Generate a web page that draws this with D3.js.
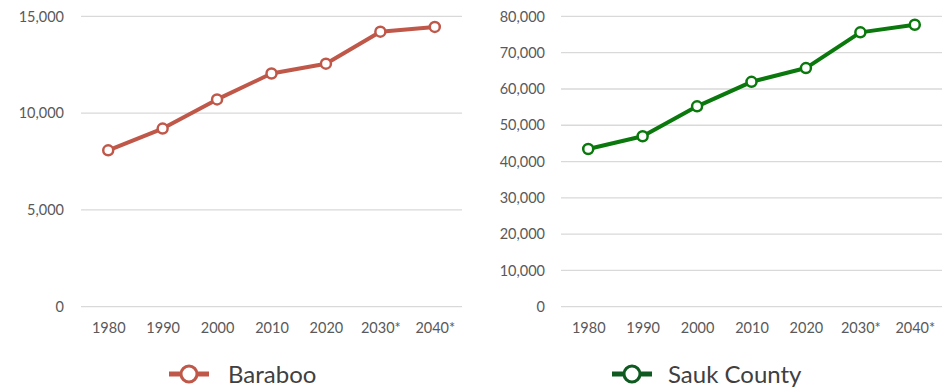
<!DOCTYPE html>
<html>
<head>
<meta charset="utf-8">
<script src="https://cdn.jsdelivr.net/npm/d3@7"></script>
<style>
  html, body { margin: 0; padding: 0; background: #fff; }
  svg { display: block; }
  text { font-family: Lato, "Open Sans", sans-serif; }
</style>
</head>
<body>
<svg id="chart" width="947" height="388"></svg>
<script>
// Census counts and projections (* = projected)
const years = ["1980", "1990", "2000", "2010", "2020", "2030*", "2040*"];
const barabooValues = [8081, 9203, 10711, 12048, 12556, 14210, 14455];
const saukValues = [43469, 46975, 55225, 61976, 65763, 75600, 77700];
const barabooTicks = [0, 5000, 10000, 15000];
const saukTicks = [0, 10000, 20000, 30000, 40000, 50000, 60000, 70000, 80000];

const svg = d3.select("#chart");
const fmt = d3.format(",");

function panel(opts) {
  const g = svg.append("g");
  const x = d3.scalePoint().domain(years).range([opts.x0, opts.x1]).padding(0.5);
  const y = d3.scaleLinear().domain([0, opts.max]).range([306.7, 16.4]);

  // horizontal gridlines
  g.append("g").selectAll("line").data(opts.ticks).join("line")
    .attr("x1", opts.x0).attr("x2", opts.x1)
    .attr("y1", d => y(d)).attr("y2", d => y(d))
    .attr("stroke", "#d9d9d9").attr("stroke-width", 1.3);

  // y axis labels
  const yAxis = d3.axisLeft(y).tickValues(opts.ticks).tickFormat(fmt).tickSize(0).tickPadding(0);
  const ya = g.append("g").attr("transform", `translate(${opts.labelX},0)`).call(yAxis);
  ya.select(".domain").remove();
  ya.selectAll("text").attr("fill", "#595959").attr("font-size", 14.5)
    .attr("font-family", "Lato, 'Open Sans', sans-serif");

  // x axis labels
  const xAxis = d3.axisBottom(x).tickSize(0).tickPadding(0);
  const xa = g.append("g").attr("transform", "translate(0,323)").call(xAxis);
  xa.select(".domain").remove();
  xa.selectAll("text").attr("fill", "#595959").attr("font-size", 14.5)
    .attr("font-family", "Lato, 'Open Sans', sans-serif");

  const data = years.map((yr, i) => ({ yr, v: opts.values[i] }));
  const line = d3.line().x(d => x(d.yr)).y(d => y(d.v));
  g.append("path").datum(data).attr("d", line)
    .attr("fill", "none").attr("stroke", opts.color).attr("stroke-width", 4)
    .attr("stroke-linejoin", "round");
  g.append("g").selectAll("circle").data(data).join("circle")
    .attr("cx", d => x(d.yr)).attr("cy", d => y(d.v)).attr("r", 5)
    .attr("fill", "#fff").attr("stroke", opts.color).attr("stroke-width", 2.5);

  // legend
  const lg = g.append("g").attr("transform", `translate(${opts.legendX},374)`);
  lg.append("line").attr("x1", 0).attr("x2", 40).attr("y1", 0).attr("y2", 0)
    .attr("stroke", opts.legendColor).attr("stroke-width", 5);
  lg.append("circle").attr("cx", 20).attr("cy", 0).attr("r", 8)
    .attr("fill", "#fff").attr("stroke", opts.legendColor).attr("stroke-width", 3);
  lg.append("text").attr("x", opts.legendTextDx).attr("y", 8.5)
    .attr("font-size", 24).attr("fill", "#404040").text(opts.name);
}

panel({
  name: "Baraboo", values: barabooValues, ticks: barabooTicks, max: 15000,
  x0: 81, x1: 462, labelX: 64, color: "#C0584A", legendColor: "#C0584A",
  legendX: 169, legendTextDx: 59
});
panel({
  name: "Sauk County", values: saukValues, ticks: saukTicks, max: 80000,
  x0: 561, x1: 942, labelX: 545, color: "#0A780C", legendColor: "#0F5A20",
  legendX: 612, legendTextDx: 56
});
</script>
</body>
</html>
